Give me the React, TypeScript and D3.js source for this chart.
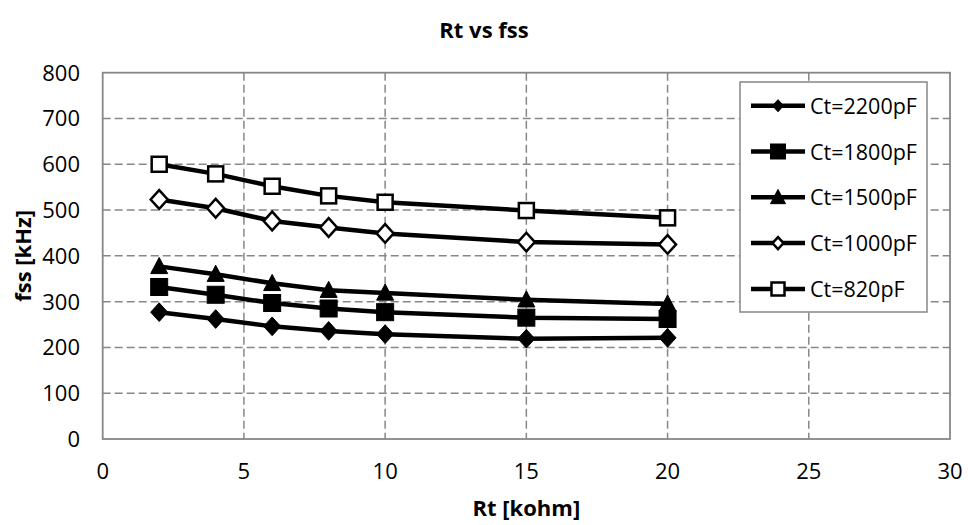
import React, { useEffect } from "react";
import * as d3 from "d3";

const rtValues = [2, 4, 6, 8, 10, 15, 20];
const ct2200 = [277, 262, 246, 236, 229, 219, 221];
const ct1800 = [332, 315, 297, 285, 277, 265, 262];
const ct1500 = [377, 360, 340, 325, 319, 304, 295];
const ct1000 = [523, 504, 476, 462, 449, 430, 425];
const ct820 = [600, 579, 552, 531, 517, 499, 483];
const seriesNames = ["Ct=2200pF", "Ct=1800pF", "Ct=1500pF", "Ct=1000pF", "Ct=820pF"];
const seriesMarkers = ["diamondFilled", "squareFilled", "triangleFilled", "diamondOpen", "squareOpen"];
const xTicks = [0, 5, 10, 15, 20, 25, 30];
const yTicks = [0, 100, 200, 300, 400, 500, 600, 700, 800];
const titleText = "Rt vs fss";
const xTitle = "Rt [kohm]";
const yTitle = "fss [kHz]";

const W = 968;
const H = 525;
const FONT = "'Open Sans', 'Noto Sans', sans-serif";
const GRID = "#878787";

function Marker({ kind, x, y, s }: { kind: string; x: number; y: number; s: number }) {
  const h = s / 2;
  if (kind === "diamondFilled" || kind === "diamondOpen") {
    const hh = h * 1.1;
    const d = `M${x},${y - hh}L${x + h},${y}L${x},${y + hh}L${x - h},${y}Z`;
    return kind === "diamondFilled" ? (
      <path d={d} fill="#000" stroke="#000" strokeWidth={1} />
    ) : (
      <path d={d} fill="#fff" stroke="#000" strokeWidth={2.5} />
    );
  }
  if (kind === "squareFilled" || kind === "squareOpen") {
    return kind === "squareFilled" ? (
      <rect x={x - h} y={y - h} width={s} height={s} fill="#000" stroke="#000" strokeWidth={1} />
    ) : (
      <rect x={x - h + 1} y={y - h + 1} width={s - 2} height={s - 2} fill="#fff" stroke="#000" strokeWidth={2.5} />
    );
  }
  const d = `M${x},${y - h * 1.05}L${x + h},${y + h * 0.85}L${x - h},${y + h * 0.85}Z`;
  return <path d={d} fill="#000" stroke="#000" strokeWidth={1} />;
}

export default function App() {
  useEffect(() => {
    document.body.style.margin = "0";
  }, []);

  const left = 102.7;
  const right = 950;
  const top = 72.7;
  const bottom = 439;

  const x = d3.scaleLinear().domain([0, 30]).range([left, right]);
  const y = d3.scaleLinear().domain([0, 800]).range([bottom, top]);

  const allSeries = [ct2200, ct1800, ct1500, ct1000, ct820];
  const line = d3
    .line<number>()
    .x((_, i) => x(rtValues[i]))
    .y((v) => y(v));

  const legX = 740;
  const legY = 82;
  const legW = 187;
  const legH = 230;
  const rowY = [105.7, 151.5, 197.3, 243.1, 289];

  return (
    <svg
      width={W}
      height={H}
      viewBox={`0 0 ${W} ${H}`}
      style={{ position: "absolute", left: 0, top: 0, background: "#fff" }}
    >
      <rect x={0} y={0} width={W} height={H} fill="#fff" />
      <text x={W / 2} y={38} textAnchor="middle" fontFamily={FONT} fontWeight="bold" fontSize={22} fill="#000">
        {titleText}
      </text>

      {/* gridlines */}
      {yTicks
        .filter((t) => t > 0 && t < 800)
        .map((t) => (
          <line key={"gy" + t} x1={left} x2={right} y1={y(t)} y2={y(t)} stroke={GRID} strokeWidth={1.5} strokeDasharray="8,4" />
        ))}
      {xTicks
        .filter((t) => t > 0 && t < 30)
        .map((t) => (
          <line key={"gx" + t} x1={x(t)} x2={x(t)} y1={top} y2={bottom} stroke={GRID} strokeWidth={1.5} strokeDasharray="8,4" />
        ))}
      <rect x={left} y={top} width={right - left} height={bottom - top} fill="none" stroke={GRID} strokeWidth={1.8} />

      {/* tick labels */}
      {yTicks.map((t) => (
        <text key={"yl" + t} x={80} y={y(t) + 8} textAnchor="end" fontFamily={FONT} fontSize={22} fill="#000">
          {t}
        </text>
      ))}
      {xTicks.map((t) => (
        <text key={"xl" + t} x={x(t)} y={479} textAnchor="middle" fontFamily={FONT} fontSize={22} fill="#000">
          {t}
        </text>
      ))}
      <text x={(left + right) / 2} y={516} textAnchor="middle" fontFamily={FONT} fontWeight="bold" fontSize={22} fill="#000">
        {xTitle}
      </text>
      <text
        transform={`translate(31,${(top + bottom) / 2}) rotate(-90)`}
        textAnchor="middle"
        fontFamily={FONT}
        fontWeight="bold"
        fontSize={22}
        fill="#000"
      >
        {yTitle}
      </text>

      {/* series */}
      {allSeries.map((vals, si) => (
        <g key={"s" + si}>
          <path d={line(vals) || ""} fill="none" stroke="#000" strokeWidth={4.5} strokeLinejoin="round" />
          {vals.map((v, i) => (
            <Marker key={i} kind={seriesMarkers[si]} x={x(rtValues[i])} y={y(v)} s={17} />
          ))}
        </g>
      ))}

      {/* legend */}
      <rect x={legX} y={legY} width={legW} height={legH} fill="#fff" stroke={GRID} strokeWidth={1.5} />
      {seriesNames.map((name, i) => (
        <g key={"lg" + i}>
          <line x1={751} x2={805} y1={rowY[i]} y2={rowY[i]} stroke="#000" strokeWidth={4.5} />
          <Marker kind={seriesMarkers[i]} x={778} y={rowY[i]} s={seriesMarkers[i].startsWith("diamond") ? 11 : 15} />
          <text x={810} y={rowY[i] + 8} fontFamily={FONT} fontSize={21.5} fill="#000">
            {name}
          </text>
        </g>
      ))}
    </svg>
  );
}
